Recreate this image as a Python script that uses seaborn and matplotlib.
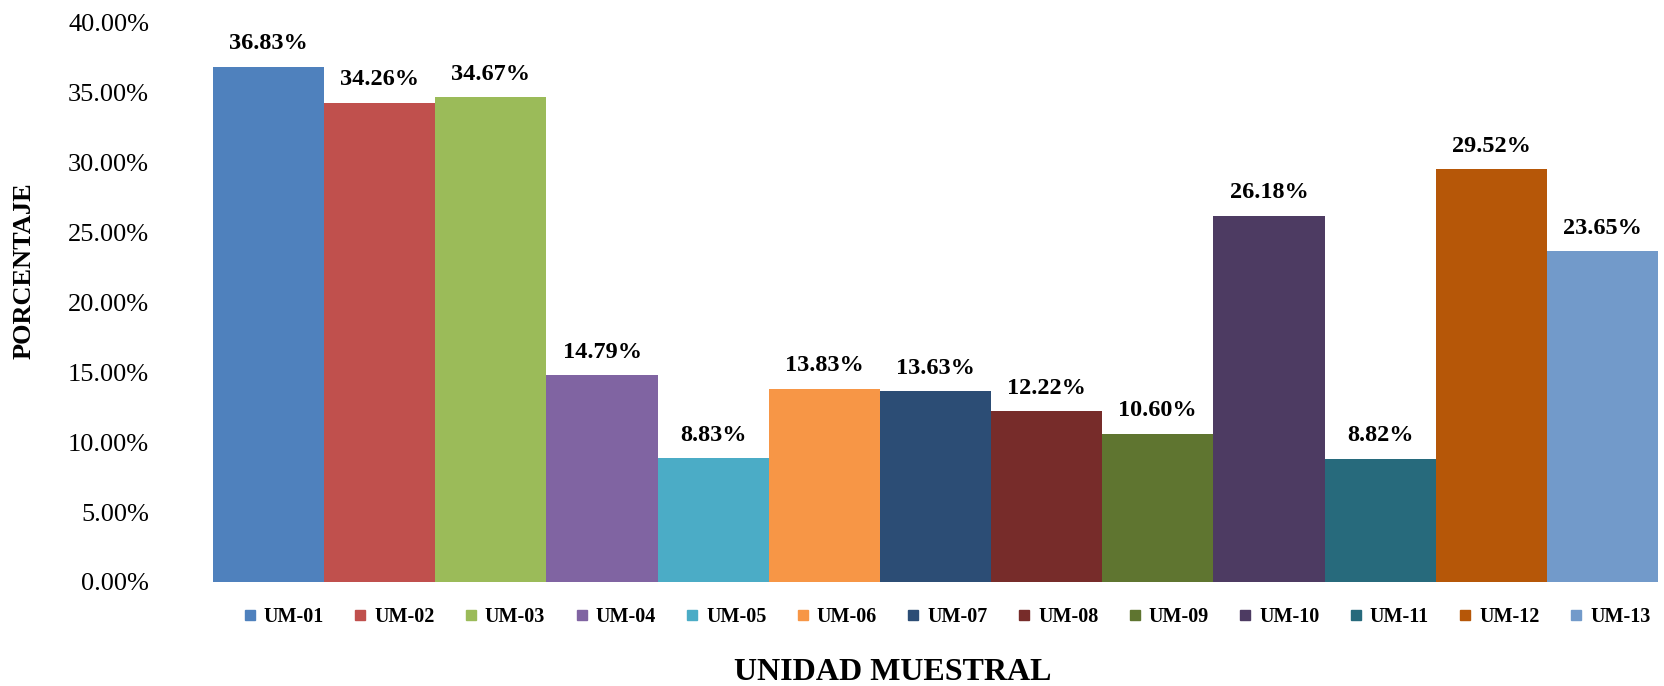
import matplotlib
matplotlib.use("Agg")
import matplotlib.pyplot as plt
import seaborn as sns
import pandas as pd
from matplotlib.lines import Line2D
from matplotlib.ticker import FuncFormatter

categories = ["UM-01", "UM-02", "UM-03", "UM-04", "UM-05", "UM-06", "UM-07",
              "UM-08", "UM-09", "UM-10", "UM-11", "UM-12", "UM-13"]
values = [36.83, 34.26, 34.67, 14.79, 8.83, 13.83, 13.63, 12.22, 10.60, 26.18, 8.82, 29.52, 23.65]
colors = ["#4F81BD", "#C0504D", "#9BBB59", "#8064A2", "#4BACC6", "#F79646", "#2C4D75",
          "#772C2A", "#5F7530", "#4D3B62", "#276A7C", "#B65708", "#729ACA"]
yticks = [0, 5, 10, 15, 20, 25, 30, 35, 40]

sns.set_theme(style="white")
plt.rcParams["font.family"] = ["Liberation Serif", "DejaVu Serif"]
plt.rcParams["text.color"] = "black"

df = pd.DataFrame({"cat": categories, "val": values})
fig = plt.figure(figsize=(16.65, 6.86), dpi=100)
ax = fig.add_axes([213/1665, 1-582/686, (1658-213)/1665, (582-22.5)/686])
sns.barplot(data=df, x="cat", y="val", hue="cat", palette=colors, width=1.0,
            legend=False, ax=ax, saturation=1, edgecolor="none", linewidth=0)

for i, v in enumerate(values):
    ax.annotate(f"{v:.2f}%", (i, v), xytext=(0, 9), textcoords="offset points",
                ha="center", va="bottom", fontsize=17.5, fontweight="bold", color="black")

ax.set_xlim(-0.5, len(categories) - 0.5)
ax.set_ylim(0, 40)
ax.set_yticks(yticks)
ax.yaxis.set_major_formatter(FuncFormatter(lambda v, p: f"{v:.2f}%"))
ax.tick_params(axis="y", labelsize=19, length=0, pad=46, colors="black")
ax.set_xticks([])
ax.set_xlabel("")
ax.set_ylabel("")
for s in ax.spines.values():
    s.set_visible(False)

handles = [Line2D([0], [0], marker="s", linestyle="none", markerfacecolor=c,
                  markeredgecolor=c, markersize=7.5) for c in colors]
fig.legend(handles, categories, loc="center", bbox_to_anchor=(946/1665, 1-617/686),
           ncol=13, frameon=False, handlelength=0.8, handletextpad=0.3, columnspacing=1.4,
           prop={"family": "Liberation Serif", "weight": "bold", "size": 14.5})

fig.text(893/1665, 1-672/686, "UNIDAD MUESTRAL", ha="center", va="center",
         fontsize=23, fontweight="bold", color="black")
fig.text(24/1665, 1-271/686, "PORCENTAJE", ha="center", va="center", rotation=90,
         fontsize=19, fontweight="bold", color="black")

fig.savefig("out.png", dpi=100, facecolor="white")
